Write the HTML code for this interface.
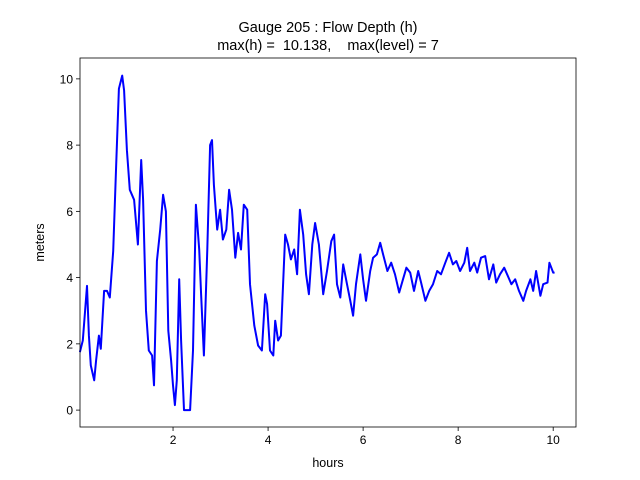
<!DOCTYPE html>
<html><head><meta charset="utf-8"><style>
body{margin:0;background:#fff}
svg{display:block;font-family:"Liberation Sans","DejaVu Sans",sans-serif}
</style></head><body>
<svg id="chart" width="640" height="480">
<rect width="640" height="480" fill="#fff"/>
<text x="328" y="32" text-anchor="middle" font-size="14.5">Gauge 205 : Flow Depth (h)</text>
<text x="328" y="50" text-anchor="middle" font-size="14.5" xml:space="preserve">max(h) =  10.138,    max(level) = 7</text>
<g id="plot"></g>
<text x="328" y="467" text-anchor="middle" font-size="12.5">hours</text>
<text transform="translate(44,242.5) rotate(-90)" text-anchor="middle" font-size="12.5">meters</text>
</svg>
<script>
const times=[0.04,0.1,0.15,0.19,0.23,0.27,0.34,0.38,0.44,0.48,0.55,0.61,0.67,0.74,0.8,0.86,0.93,0.97,1.03,1.09,1.18,1.26,1.33,1.37,1.43,1.49,1.56,1.6,1.66,1.73,1.79,1.85,1.9,1.96,2.0,2.04,2.08,2.13,2.17,2.23,2.36,2.42,2.48,2.55,2.59,2.65,2.72,2.78,2.82,2.86,2.93,2.99,3.05,3.12,3.18,3.24,3.31,3.37,3.43,3.49,3.56,3.62,3.71,3.79,3.87,3.94,3.98,4.04,4.11,4.15,4.21,4.27,4.36,4.42,4.48,4.55,4.61,4.67,4.74,4.8,4.86,4.93,4.99,5.07,5.16,5.24,5.33,5.39,5.45,5.52,5.58,5.66,5.73,5.79,5.85,5.94,6.0,6.06,6.15,6.21,6.29,6.36,6.42,6.51,6.59,6.67,6.76,6.84,6.91,6.99,7.07,7.16,7.22,7.31,7.39,7.47,7.56,7.64,7.73,7.81,7.89,7.96,8.04,8.13,8.19,8.25,8.34,8.4,8.48,8.57,8.65,8.74,8.8,8.88,8.97,9.03,9.12,9.2,9.28,9.37,9.43,9.52,9.58,9.64,9.73,9.79,9.88,9.92,10.0,10.03];
const depths=[1.75,2.1,3.0,3.75,2.25,1.35,0.9,1.5,2.25,1.85,3.6,3.6,3.4,4.8,7.25,9.7,10.1,9.65,7.85,6.65,6.35,5.0,7.55,6.35,3.0,1.8,1.65,0.75,4.5,5.45,6.5,6.0,2.4,1.5,0.75,0.15,0.9,3.95,2.1,0.0,0.0,1.8,6.2,4.85,3.5,1.65,4.85,8.0,8.15,6.8,5.45,6.05,5.15,5.45,6.65,6.05,4.6,5.35,4.85,6.2,6.05,3.8,2.55,1.95,1.8,3.5,3.2,1.8,1.65,2.7,2.1,2.25,5.3,5.0,4.55,4.85,4.1,6.05,5.3,4.1,3.5,5.0,5.65,5.0,3.5,4.2,5.1,5.3,3.8,3.4,4.4,3.8,3.3,2.85,3.8,4.7,3.95,3.3,4.2,4.6,4.7,5.05,4.7,4.2,4.45,4.1,3.55,3.95,4.3,4.15,3.6,4.2,3.85,3.3,3.6,3.8,4.2,4.1,4.45,4.75,4.4,4.5,4.2,4.45,4.9,4.2,4.45,4.15,4.6,4.65,3.95,4.4,3.85,4.1,4.3,4.1,3.8,3.95,3.6,3.3,3.6,3.95,3.6,4.2,3.45,3.8,3.85,4.45,4.15,4.15];
const xTicks=[2,4,6,8,10];
const yTicks=[0,2,4,6,8,10];
const L=80,R=576,T=58,B=427;
const xMin=0.042,xMax=10.48,yMin=-0.51,yMax=10.63;
const sx=v=>L+(v-xMin)/(xMax-xMin)*(R-L);
const sy=v=>B-(v-yMin)/(yMax-yMin)*(B-T);
const NS="http://www.w3.org/2000/svg";
const g=document.getElementById('plot');
function mk(tag,attrs){const e=document.createElementNS(NS,tag);for(const k in attrs)e.setAttribute(k,attrs[k]);g.appendChild(e);return e;}
let d='';
times.forEach((t,i)=>{d+=(i?'L':'M')+sx(t).toFixed(1)+','+sy(depths[i]).toFixed(1);});
const line=mk('path',{d:d,fill:'none',stroke:'#0000ff','stroke-width':2,'stroke-linejoin':'round'});


xTicks.forEach(v=>{
  const x=sx(v);
  const tk=mk('line',{x1:x,x2:x,y1:B,y2:B+4,stroke:'#000','stroke-width':0.8});
  
  
  const tx=mk('text',{x:x,y:B+17,'text-anchor':'middle','font-size':12});
  tx.textContent=v;
  
  
});
yTicks.forEach(v=>{
  const y=sy(v);
  const tk=mk('line',{x1:L-4,x2:L,y1:y,y2:y,stroke:'#000','stroke-width':0.8});
  
  
  const tx=mk('text',{x:L-7,y:y+4.5,'text-anchor':'end','font-size':12});
  tx.textContent=v;
  
  
});
const frame=mk('rect',{x:L,y:T,width:R-L,height:B-T,fill:'none',stroke:'#000','stroke-width':0.8});


</script>
</body></html>
